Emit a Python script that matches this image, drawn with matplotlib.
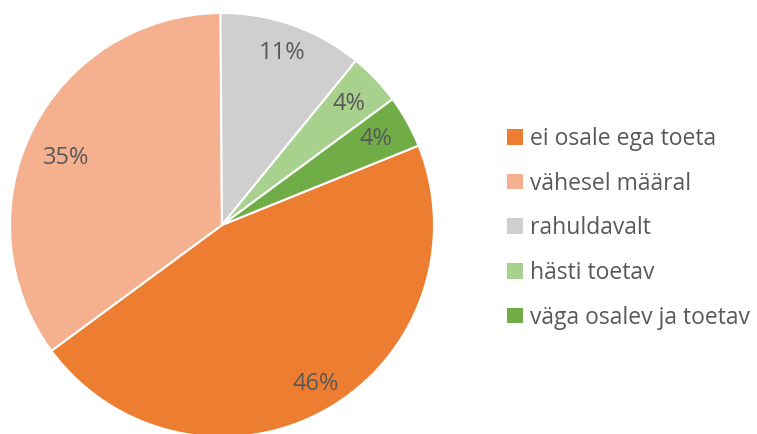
import matplotlib
matplotlib.use("Agg")
import matplotlib.pyplot as plt
import numpy as np

categories = ["ei osale ega toeta", "vähesel määral", "rahuldavalt", "hästi toetav", "väga osalev ja toetav"]
values = [46, 35, 11, 4, 4]
colors = ["#ED7D31", "#F4B08F", "#CFCFCF", "#A9D18E", "#70AD47"]
explode = [0.018, 0, 0, 0, 0]
label_dist = [0.87, 0.80, 0.86, 0.83, 0.83]
label_shift = [1.5, 3.5, 0.0, 0.0, 0.0]

plt.rcParams['font.family'] = ['Open Sans', 'DejaVu Sans']
TEXT = "#595959"

W, H = 757, 434
fig = plt.figure(figsize=(W / 100, H / 100), dpi=100)
ax = fig.add_axes([0, 0, 1, 1])

cx, cy, r = 222, H - 225, 212
wedges, texts, autotexts = ax.pie(
    values, colors=colors, explode=explode, startangle=22, counterclock=False,
    center=(cx, cy), radius=r, autopct="%1.0f%%", pctdistance=0.84,
    wedgeprops=dict(edgecolor="white", linewidth=1.5),
    textprops=dict(color=TEXT, fontsize=17), frame=True)

for t, w, d, s in zip(autotexts, wedges, label_dist, label_shift):
    mid = np.deg2rad((w.theta1 + w.theta2) / 2 + s)
    t.set_position((cx + d * r * np.cos(mid), cy + d * r * np.sin(mid)))

ax.set_xlim(0, W)
ax.set_ylim(0, H)
ax.set_aspect('equal', adjustable='datalim')
ax.axis('off')

leg = ax.legend(wedges, categories, loc='upper left',
                bbox_to_anchor=(507 / W, 1 - 127 / H), frameon=False,
                fontsize=16.5, handlelength=0.68, handleheight=0.68,
                handletextpad=0.32, labelspacing=0.9, borderpad=0, borderaxespad=0)
for t in leg.get_texts():
    t.set_color(TEXT)
for h in leg.legend_handles:
    h.set_edgecolor('none')

fig.savefig("out.png", dpi=100)
